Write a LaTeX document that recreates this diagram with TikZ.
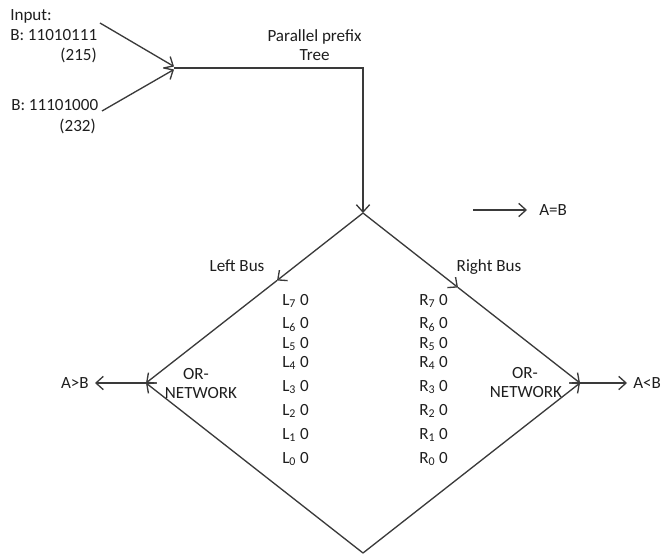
\documentclass[tikz,border=0pt]{standalone}
\usepackage{fontspec}
\setmainfont{Carlito}
\usetikzlibrary{arrows.meta}
\definecolor{wirecol}{HTML}{3A3A3A}
\definecolor{ink}{HTML}{1E1E1E}

\begin{document}
\begin{tikzpicture}[
    x=0.75pt, y=-0.75pt,
    lbl/.style={inner sep=0pt, text=ink, font=\fontsize{12.8}{15}\selectfont},
    wire/.style={draw=wirecol, line width=1pt},
    line/.style={wire, -{Straight Barb[length=5.5pt, width=10pt]}}
]
\useasboundingbox (0,0) rectangle (664,556);

% inputs
\node[lbl, anchor=base west] (inp) at (10,20.5) {Input:};
\node[lbl, anchor=base west] (bone) at (10,40.5) {B: 11010111};
\node[lbl, anchor=base east] (bonedec) at (97,60.5) {(215)};
\node[lbl, anchor=base west] (btwo) at (11,110.5) {B: 11101000};
\node[lbl, anchor=base east] (btwodec) at (96,131.5) {(232)};
\node[lbl, anchor=base] (ppf) at (314.5,41.5) {Parallel prefix};
\node[lbl, anchor=base] (tree) at (314.5,60.5) {Tree};

% diamond corners
\coordinate (top) at (363,213);
\coordinate (lc) at (146,383);
\coordinate (rc) at (580,383);
\coordinate (bot) at (363,553);
\coordinate (lmid) at (277,280.5);
\coordinate (rmid) at (458,287.5);

% input wires
\coordinate (ina) at (100,23);
\coordinate (inb) at (102,111);
\coordinate (joina) at (174,66.5);
\coordinate (joinb) at (174,69.5);
\coordinate (join) at (174,68);
\coordinate (tc) at (363,68);
\draw[line] (ina) -- (joina);
\draw[line] (inb) -- (joinb);
\draw[line] (join) -- (tc) -- (top);

% equal output
\coordinate (eqs) at (473,210);
\coordinate (eqe) at (527,210);
\node[lbl, anchor=base west] (eq) at (539,215.5) {A=B};
\draw[line] (eqs) -- (eqe);

% buses
\node[lbl, anchor=base] (lbus) at (237,271.5) {Left Bus};
\node[lbl, anchor=base] (rbus) at (489,271.5) {Right Bus};
\draw[line] (top) -- (lmid);
\draw[line] (lmid) -- (lc);
\draw[line] (top) -- (rmid);
\draw[line] (rmid) -- (rc);
\draw[line] (bot) -- (lc);
\draw[line] (bot) -- (rc);

% bit lines
\foreach \i/\y in {7/300,6/323,5/343,4/362,3/386,2/410,1/434,0/458} {
    \node[lbl, anchor=base west] (l\i) at (282,\y+5.5) {L\textsubscript{\i} 0};
    \node[lbl, anchor=base west] (r\i) at (419,\y+5.5) {R\textsubscript{\i} 0};
}

% or networks
\node[lbl, anchor=base] (lor) at (196,379.5) {OR-};
\node[lbl, anchor=base] (lnet) at (201,398.5) {NETWORK};
\node[lbl, anchor=base] (ror) at (525,378.5) {OR-};
\node[lbl, anchor=base] (rnet) at (526,397.5) {NETWORK};

% results
\coordinate (gtend) at (95,383);
\coordinate (ltend) at (627,383);
\node[lbl, anchor=base east] (gt) at (89,388.5) {A>B};
\node[lbl, anchor=base west] (lt) at (633,388.5) {A<B};
\draw[line] (lc) -- (gtend);
\draw[line] (rc) -- (ltend);
\end{tikzpicture}
\end{document}
